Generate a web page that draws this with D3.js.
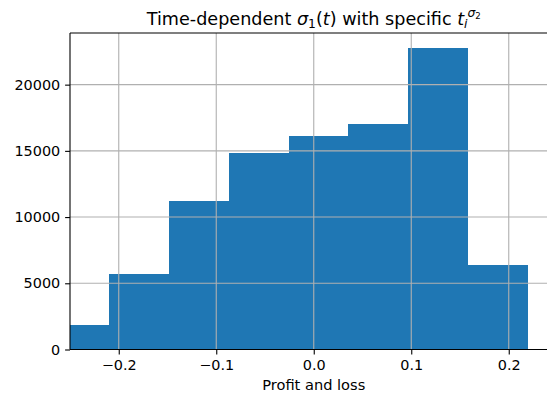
<!DOCTYPE html>
<html>
<head>
<meta charset="utf-8">
<script src="https://cdn.jsdelivr.net/npm/d3@7"></script>
<style>
  body { margin: 0; background: #fff; }
  svg { display: block; font-family: "DejaVu Sans", sans-serif; }
</style>
</head>
<body>
<svg id="chart" width="547" height="394"></svg>
<script>
// Histogram of profit and loss
const binEdges = [-0.2710, -0.2097, -0.1484, -0.0871, -0.0258, 0.0355, 0.0968, 0.1581, 0.2194];
const counts = [1850, 5700, 11220, 14840, 16150, 17010, 22740, 6380];
const xTicks = [-0.2, -0.1, 0.0, 0.1, 0.2];
const yTicks = [0, 5000, 10000, 15000, 20000];
const xDomain = [-0.25, 0.25];
const yDomain = [0, 23900];

const svg = d3.select("#chart");
const plotLeft = 70, plotRight = 557.5, plotTop = 33, plotBottom = 349.5;
const tickFont = "14.4px";

const x = d3.scaleLinear().domain(xDomain).range([plotLeft, plotRight]);
const y = d3.scaleLinear().domain(yDomain).range([plotBottom, plotTop]);

svg.append("defs").append("clipPath").attr("id", "plotArea")
  .append("rect").attr("x", plotLeft).attr("y", plotTop)
  .attr("width", plotRight - plotLeft).attr("height", plotBottom - plotTop);

const bins = counts.map((c, i) => ({ x0: binEdges[i], x1: binEdges[i + 1], n: c }));

svg.append("g").attr("clip-path", "url(#plotArea)")
  .selectAll("rect").data(bins).join("rect")
  .attr("x", d => x(d.x0))
  .attr("width", d => x(d.x1) - x(d.x0))
  .attr("y", d => y(d.n))
  .attr("height", d => y(0) - y(d.n))
  .attr("fill", "#1f77b4")
  .attr("shape-rendering", "crispEdges");

// grid drawn over the bars
const grid = svg.append("g").attr("stroke", "#b0b0b0").attr("stroke-width", 1.1);
grid.selectAll("line.vx").data(xTicks).join("line")
  .attr("x1", d => x(d)).attr("x2", d => x(d))
  .attr("y1", plotTop).attr("y2", plotBottom);
grid.selectAll("line.hy").data(yTicks).join("line")
  .attr("x1", plotLeft).attr("x2", plotRight)
  .attr("y1", d => y(d)).attr("y2", d => y(d));

// axes
const fmtX = d => (d < 0 ? "\u2212" : "") + Math.abs(d).toFixed(1);
const xAxis = d3.axisBottom(x).tickValues(xTicks).tickFormat(fmtX).tickSize(4.9).tickPadding(4.9);
const yAxis = d3.axisLeft(y).tickValues(yTicks).tickFormat(d3.format("d")).tickSize(4.9).tickPadding(4.9);

const gx = svg.append("g").attr("transform", `translate(0,${plotBottom})`).call(xAxis);
const gy = svg.append("g").attr("transform", `translate(${plotLeft},0)`).call(yAxis);
[gx, gy].forEach(g => {
  g.select(".domain").remove();
  g.selectAll(".tick line").attr("stroke", "#000").attr("stroke-width", 1.1);
  g.selectAll(".tick text").attr("fill", "#000")
    .style("font-family", "DejaVu Sans").style("font-size", tickFont);
});

// spines
const spines = svg.append("g").attr("stroke", "#000").attr("stroke-width", 1.1).attr("fill", "none");
spines.append("line").attr("x1", plotLeft).attr("x2", plotLeft).attr("y1", plotTop).attr("y2", plotBottom);
spines.append("line").attr("x1", plotLeft).attr("x2", plotRight).attr("y1", plotBottom).attr("y2", plotBottom);
spines.append("line").attr("x1", plotLeft).attr("x2", plotRight).attr("y1", plotTop).attr("y2", plotTop);
spines.append("line").attr("x1", plotRight).attr("x2", plotRight).attr("y1", plotTop).attr("y2", plotBottom);

// x label
svg.append("text")
  .attr("x", (plotLeft + plotRight) / 2).attr("y", 390)
  .attr("text-anchor", "middle")
  .style("font-size", "14.6px").attr("fill", "#000")
  .text("Profit and loss");

// title with math notation
const title = svg.append("text")
  .attr("x", (plotLeft + plotRight) / 2).attr("y", 25)
  .attr("text-anchor", "middle")
  .style("font-size", "17.6px").attr("fill", "#000");
title.append("tspan").text("Time-dependent ");
title.append("tspan").style("font-style", "italic").text("\u03C3");
title.append("tspan").attr("dy", 3).style("font-size", "12.3px").text("1");
title.append("tspan").attr("dy", -3).text("(");
title.append("tspan").style("font-style", "italic").text("t");
title.append("tspan").text(") with specific ");
title.append("tspan").style("font-style", "italic").text("t");
title.append("tspan").attr("dy", 3).style("font-size", "12.3px").style("font-style", "italic").text("i");
title.append("tspan").attr("dy", -11).style("font-size", "12.3px").style("font-style", "italic").text("\u03C3");
title.append("tspan").attr("dy", 2).style("font-size", "8.6px").text("2");
</script>
</body>
</html>
